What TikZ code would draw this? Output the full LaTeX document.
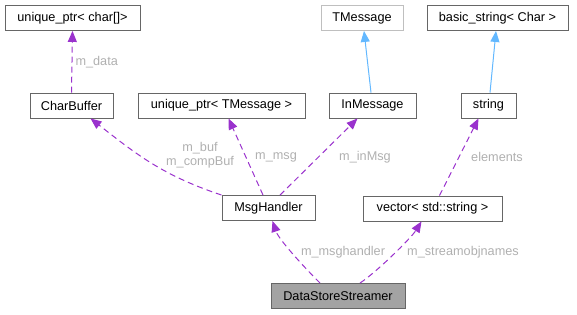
\documentclass[tikz,border=0pt]{standalone}
\usepackage{fontspec}
\setmainfont{Liberation Sans}
\usepackage{xcolor}
\usepackage{tikz}
\usetikzlibrary{arrows.meta, positioning, calc}

\definecolor{edgepurple}{HTML}{9A32CD}
\definecolor{edgeblue}{HTML}{63B8FF}
\definecolor{boxline}{HTML}{666666}
\definecolor{labelgray}{HTML}{B0B0B0}

\begin{document}
\begin{tikzpicture}[
    x=1pt, y=-1pt,
    cls/.style={draw=boxline, line width=0.9pt, fill=white, minimum height=25pt, inner sep=0pt, font=\fontsize{12.7}{15}\selectfont},
    member/.style={-{Triangle[length=11pt, width=9pt]}, edgepurple, line width=1pt, dash pattern=on 6pt off 4pt},
    inherit/.style={-{Triangle[length=11pt, width=9pt]}, edgeblue, line width=1pt},
    lbl/.style={text=labelgray, font=\fontsize{12.7}{13.5}\selectfont, align=center, inner sep=1pt}
]
    \useasboundingbox (0,0) rectangle (577,315);

    % Blocks
    \node[cls, minimum width=135pt] (uchar)   at (72.5, 18)    {unique\_ptr< char[]>};
    \node[cls, minimum width=82pt, draw=gray!50] (tmsg) at (362, 18) {TMessage};
    \node[cls, minimum width=141pt] (bstring) at (497.5, 18)   {basic\_string< Char >};
    \node[cls, minimum width=83pt]  (charbuf) at (71.5, 105.5) {CharBuffer};
    \node[cls, minimum width=167pt] (uptrmsg) at (221.5, 105.5) {unique\_ptr< TMessage >};
    \node[cls, minimum width=87pt]  (inmsg)   at (372.5, 105.5) {InMessage};
    \node[cls, minimum width=55pt]  (string)  at (488.5, 105.5) {string};
    \node[cls, minimum width=93pt]  (msgh)    at (268.5, 208)  {MsgHandler};
    \node[cls, minimum width=139pt] (vec)     at (432.5, 208.5) {vector< std::string >};
    \node[cls, minimum width=134pt, fill=gray!80!black!60] (dss) at (338, 296) {DataStoreStreamer};

    % Inheritance
    \draw[inherit] ($(inmsg.north)+(-1.5,0)$) -- ($(tmsg.south)+(2,0)$);
    \draw[inherit] ($(string.north)+(1.5,0)$) -- ($(bstring.south)+(-1.5,0)$);

    % Members
    \draw[member] (charbuf.north) -- node[lbl, right=2pt] {m\_data} (uchar.south);
    \draw[member] (msgh.north west) .. controls +(-60,-20) and +(45,35) .. ($(charbuf.south)+(19,0)$);
    \node[lbl] (lblbuf) at (200, 155) {m\_buf\\m\_compBuf};
    \draw[member] ($(msgh.north)+(-5.5,0)$) -- ($(uptrmsg.south)+(7,0)$);
    \node[lbl] (lblmsg) at (276, 157) {m\_msg};
    \draw[member] ($(msgh.north)+(11.5,0)$) -- ($(inmsg.south)+(-15,0)$);
    \node[lbl] (lblin) at (365, 157) {m\_inMsg};
    \draw[member] ($(vec.north)+(7,0)$) -- ($(string.south)+(-10,0)$);
    \node[lbl] (lblel) at (497, 157) {elements};
    \draw[member] ($(dss.north)+(-18,0)$) .. controls +(-18,-18) and +(6,18) .. ($(msgh.south)+(4,0)$);
    \node[lbl] (lblmh) at (343, 252) {m\_msghandler};
    \draw[member] ($(dss.north)+(22,0)$) .. controls +(18,-12) and +(-10,16) .. ($(vec.south)+(-11,0)$);
    \node[lbl] (lblso) at (463, 252) {m\_streamobjnames};
\end{tikzpicture}
\end{document}
